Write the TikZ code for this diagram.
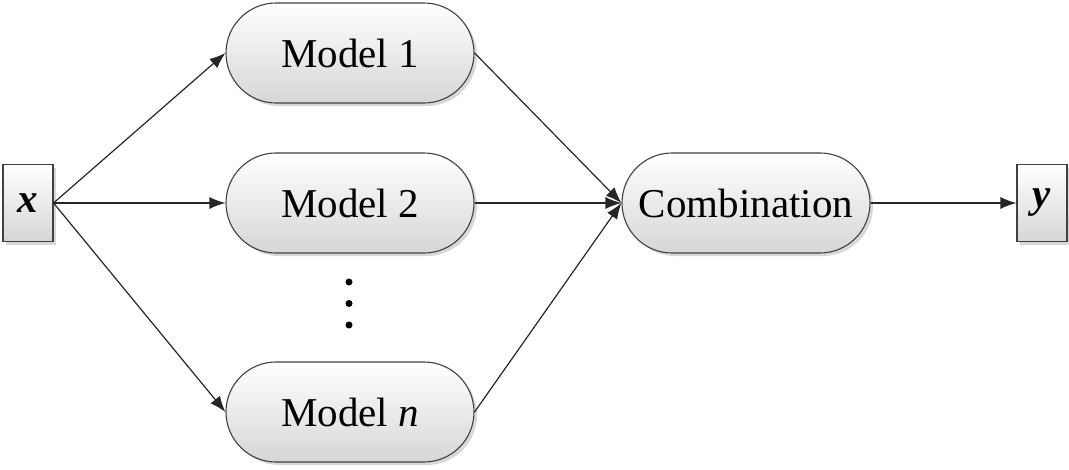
\documentclass[tikz,border=0pt]{standalone}
\usepackage{fontspec}
\setmainfont{Liberation Serif}
\usetikzlibrary{arrows.meta,shapes.misc,shadows}

\begin{document}
\begin{tikzpicture}[x=1pt,y=-1pt]
		\tikzstyle{every node}+=[inner sep=0pt, font=\fontsize{41}{48}\selectfont]
		\tikzstyle{model}=[rounded rectangle, draw=black!75, line width=1.1pt, top color=white, bottom color=black!16, drop shadow={shadow xshift=3pt, shadow yshift=-3pt, fill=black!30, opacity=0.5}, minimum width=248pt, minimum height=100pt]
		\tikzstyle{io}=[rectangle, draw=black!75, line width=1.1pt, top color=white, bottom color=black!16, drop shadow={shadow xshift=3pt, shadow yshift=-3pt, fill=black!30, opacity=0.5}, minimum width=50pt, minimum height=77pt]
		\tikzstyle{conn}=[draw=black!85, line width=1.2pt, -{Latex[length=16pt,width=12pt]}]
		\useasboundingbox (0,0) rectangle (1069,469);
		% inputs and outputs
		\node [io] (x) at (28,203) {\textbf{\textit{x}}};
		\node [io] (y) at (1042,203) {\textbf{\textit{y}}};
		% models
		\node [model] (m1) at (350,53) {Model 1};
		\node [model] (m2) at (350,203) {Model 2};
		\node [model] (mn) at (350,412) {Model \textit{n}};
		\node [model] (comb) at (746,203) {Combination};
		\coordinate (dots) at (349,282);
		\foreach \i in {0,1,2}
			\fill (dots) ++(0,\i*21.5) circle (3.5);
		% connectors
		\draw [conn] (x.east) -- (m1.west);
		\draw [conn] (x.east) -- (m2.west);
		\draw [conn] (x.east) -- (mn.west);
		\draw [conn] (m1.east) -- (comb.west);
		\draw [conn] (m2.east) -- (comb.west);
		\draw [conn] (mn.east) -- (comb.west);
		\draw [conn] (comb.east) -- (y.west);
\end{tikzpicture}
\end{document}
